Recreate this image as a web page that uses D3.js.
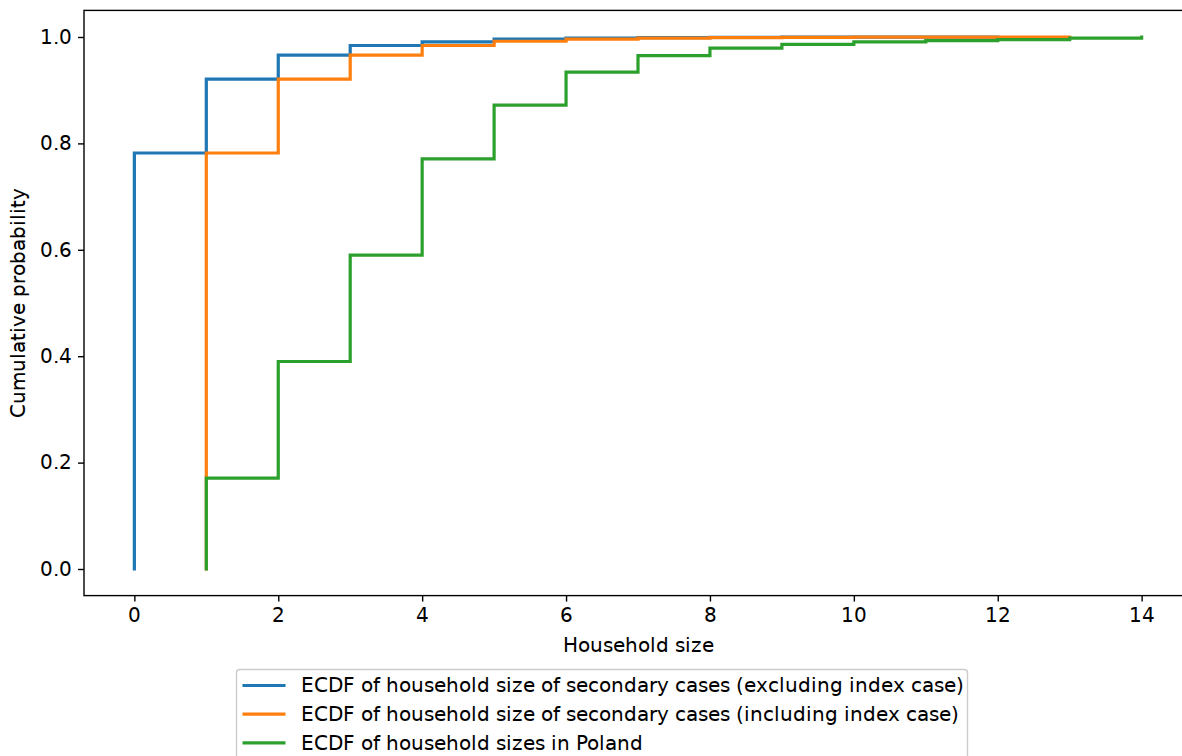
<!DOCTYPE html>
<html>
<head>
<meta charset="utf-8">
<script src="https://cdn.jsdelivr.net/npm/d3@7"></script>
<style>
  @font-face { font-family: "DVS"; src: local("DejaVu Sans"), local("DejaVuSans"), local("DejaVu Sans Book"); }
  body { margin: 0; background: #fff; }
  svg, svg text { font-family: "DVS", "DejaVu Sans", "Bitstream Vera Sans", Verdana, sans-serif; }
</style>
</head>
<body>
<div id="chart"></div>
<script>
// ECDF data
var excludingSizes = [0, 1, 2, 3, 4, 5, 6, 7, 8, 9, 10, 11, 12];
var excludingCdf = [0.782, 0.921, 0.966, 0.984, 0.991, 0.996, 0.998, 0.999, 0.9993, 0.9996, 0.9998, 0.9999, 1.0];
var includingSizes = [1, 2, 3, 4, 5, 6, 7, 8, 9, 10, 11, 12, 13];
var includingCdf = [0.782, 0.921, 0.966, 0.984, 0.992, 0.996, 0.998, 0.999, 0.9993, 0.9996, 0.9998, 0.9999, 1.0];
var polandSizes = [1, 2, 3, 4, 5, 6, 7, 8, 9, 10, 11, 12, 13, 14];
var polandCdf = [0.171, 0.390, 0.590, 0.771, 0.872, 0.934, 0.965, 0.979, 0.986, 0.991, 0.993, 0.995, 0.998, 1.0];

var seriesNames = [
  "ECDF of household size of secondary cases (excluding index case)",
  "ECDF of household size of secondary cases (including index case)",
  "ECDF of household sizes in Poland"
];
var colors = ["#1f77b4", "#ff7f0e", "#2ca02c"];
var xTicks = [0, 2, 4, 6, 8, 10, 12, 14];
var yTicks = [0.0, 0.2, 0.4, 0.6, 0.8, 1.0];

var width = 1182, height = 756;
var plotLeft = 84, plotRight = 1192, plotTop = 10.4, plotBottom = 595.6;
var fontStack = '"DVS", "DejaVu Sans", "Bitstream Vera Sans", Verdana, sans-serif';

var svg = d3.select("#chart").append("svg").attr("width", width).attr("height", height);

var x = d3.scaleLinear().domain([-0.7, 14.7]).range([plotLeft, plotRight]);
var y = d3.scaleLinear().domain([-0.05, 1.05]).range([plotBottom, plotTop]);

// build step points, starting from 0 at the first size
function ecdfPoints(sizes, cdf) {
  var pts = [[sizes[0], 0]];
  sizes.forEach(function (s, i) { pts.push([s, cdf[i]]); });
  return pts;
}
var series = [
  ecdfPoints(excludingSizes, excludingCdf),
  ecdfPoints(includingSizes, includingCdf),
  ecdfPoints(polandSizes, polandCdf)
];

var line = d3.line()
  .x(function (d) { return x(d[0]); })
  .y(function (d) { return y(d[1]); })
  .curve(d3.curveStepAfter);

svg.append("g").selectAll("path")
  .data(series)
  .enter()
  .append("path")
  .attr("d", line)
  .attr("fill", "none")
  .attr("stroke", function (d, i) { return colors[i]; })
  .attr("stroke-width", 3.2)
  .attr("stroke-linecap", "square")
  .attr("stroke-linejoin", "miter");

// axes
var xAxis = svg.append("g")
  .attr("transform", "translate(0," + plotBottom + ")")
  .call(d3.axisBottom(x).tickValues(xTicks).tickSize(6).tickPadding(6).tickFormat(d3.format("d")));
var yAxis = svg.append("g")
  .attr("transform", "translate(" + plotLeft + ",0)")
  .call(d3.axisLeft(y).tickValues(yTicks).tickSize(6).tickPadding(6).tickFormat(d3.format(".1f")));

[xAxis, yAxis].forEach(function (ax) {
  ax.attr("font-family", null).attr("font-size", null);
  ax.select(".domain").remove();
  ax.selectAll(".tick line").attr("stroke", "#000").attr("stroke-width", 1.4);
  ax.selectAll(".tick text").attr("class", "lbl").attr("fill", "#000").style("font-family", fontStack);
});

// frame
svg.append("rect")
  .attr("x", plotLeft).attr("y", plotTop)
  .attr("width", plotRight - plotLeft).attr("height", plotBottom - plotTop)
  .attr("fill", "none").attr("stroke", "#000").attr("stroke-width", 1.4);

var xLabel = svg.append("text")
  .attr("class", "lbl")
  .attr("x", (plotLeft + plotRight) / 2).attr("y", 652)
  .attr("text-anchor", "middle")
  .text("Household size");

svg.append("text")
  .attr("class", "lbl")
  .attr("transform", "translate(25," + ((plotTop + plotBottom) / 2) + ") rotate(-90)")
  .attr("text-anchor", "middle")
  .text("Cumulative probability");

// legend
var legend = svg.append("g").attr("transform", "translate(236.5,669.5)");
legend.append("rect")
  .attr("width", 731).attr("height", 110).attr("rx", 3)
  .attr("fill", "#fff").attr("fill-opacity", 0.8)
  .attr("stroke", "#ccc").attr("stroke-width", 1.4);

var rows = legend.selectAll("g.row")
  .data(seriesNames)
  .enter()
  .append("g")
  .attr("class", "row")
  .attr("transform", function (d, i) { return "translate(0," + (16 + i * 28.7) + ")"; });
rows.append("line")
  .attr("x1", 6).attr("x2", 49)
  .attr("stroke", function (d, i) { return colors[i]; })
  .attr("stroke-width", 3.2);
rows.append("text")
  .attr("class", "lbl")
  .attr("x", 64).attr("dy", "0.35em")
  .text(function (d) { return d; });

// size the text so "Household size" spans what it does in the original (~149px)
svg.selectAll("text.lbl").style("font-size", "17px");
var w = xLabel.node().getComputedTextLength();
var fs = Math.max(16, Math.min(20, 17 * 149 / w));
svg.selectAll("text.lbl").style("font-size", fs + "px");
</script>
</body>
</html>
